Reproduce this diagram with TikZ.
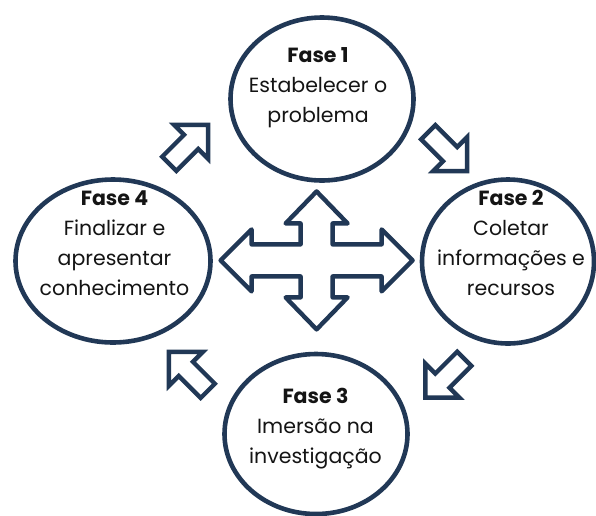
\documentclass[tikz,border=0pt]{standalone}
\usepackage{fontspec}
\setmainfont{Poppins}
\usetikzlibrary{shapes.geometric}
\definecolor{navy}{RGB}{33,56,86}
\definecolor{txt}{RGB}{20,20,20}
\tikzset{
  phase/.style={draw=navy, line width=4.6pt, ellipse, inner sep=0pt, fill=white},
  lbl/.style={align=center, text=txt, inner sep=0pt, anchor=base, font=\fontsize{20.5}{30}\selectfont},
  blockarrow/.style={draw=navy, line width=4.4pt, line join=miter, fill=white},
  cross/.style={draw=navy, line width=4.4pt, line join=round, fill=white},
  pics/barrow/.style={code={
    \draw[blockarrow] (-28,-10) -- (3,-10) -- (3,-24) -- (27,0) -- (3,24) -- (3,10) -- (-28,10) -- cycle;
  }}
}
\begin{document}
\begin{tikzpicture}[x=1pt,y=-1pt]
\useasboundingbox (0,0) rectangle (596,515);
\begin{scope}
\clip (0,0) rectangle (596,515);
% ellipses
\node[phase, minimum width=183pt, minimum height=163pt] (e1) at (322,99) {};
\node[phase, minimum width=172pt, minimum height=164pt] (e2) at (508,261.5) {};
\node[phase, minimum width=183pt, minimum height=160pt] (e3) at (316,434) {};
\node[phase, minimum width=195pt, minimum height=163pt] (e4) at (113,261) {};
\end{scope}
% central cross
\coordinate (c) at (316.6,260.4);
\draw[cross] ([shift={(0,-69)}]c) -- ++(31,32) -- ++(-15,0) -- ++(0,21) -- ++(49,0) -- ++(0,-15) -- ++(31,31)
  -- ++(-31,31) -- ++(0,-15) -- ++(-49,0) -- ++(0,21) -- ++(15,0) -- ++(-31,32)
  -- ++(-31,-32) -- ++(15,0) -- ++(0,-21) -- ++(-49,0) -- ++(0,15) -- ++(-31,-31)
  -- ++(31,-31) -- ++(0,15) -- ++(49,0) -- ++(0,-21) -- ++(-15,0) -- cycle;
% small arrows
\pic[shift={(189,144)}, rotate=45] {barrow};
\pic[shift={(448,152)}, rotate=-45] {barrow};
\pic[shift={(444.5,378.5)}, rotate=-135] {barrow};
\pic[shift={(188,371)}, rotate=135] {barrow};
% labels (anchor = baseline of last line)
\node[lbl] (t1) at (318,122) {\textbf{Fase 1}\\Estabelecer o\\problema};
\node[lbl] (t2) at (511,295) {\textbf{Fase 2}\\Coletar\\informações e\\recursos};
\node[lbl] (t3) at (315.5,463) {\textbf{Fase 3}\\Imersão na\\investigação};
\node[lbl] (t4) at (114.5,295) {\textbf{Fase 4}\\Finalizar e\\apresentar\\conhecimento};
\end{tikzpicture}
\end{document}
